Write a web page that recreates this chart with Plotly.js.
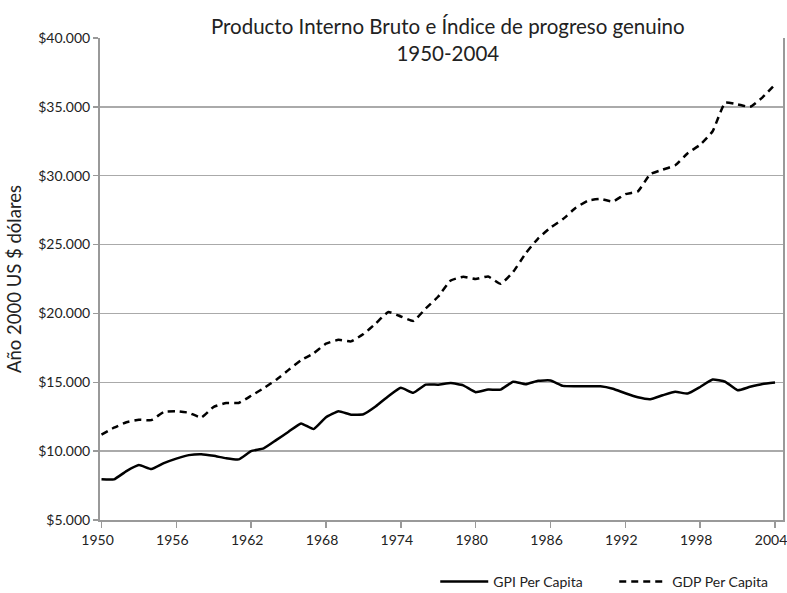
<!DOCTYPE html>
<html>
<head>
<meta charset="utf-8">
<script src="https://cdn.plot.ly/plotly-3.0.1.min.js"></script>
<style>html,body{margin:0;padding:0;background:#fff;}#chart{width:787px;height:593px;}</style>
</head>
<body>
<div id="chart"></div>
<script>
const years = [1950,1951,1952,1953,1954,1955,1956,1957,1958,1959,
  1960,1961,1962,1963,1964,1965,1966,1967,1968,1969,
  1970,1971,1972,1973,1974,1975,1976,1977,1978,1979,
  1980,1981,1982,1983,1984,1985,1986,1987,1988,1989,
  1990,1991,1992,1993,1994,1995,1996,1997,1998,1999,
  2000,2001,2002,2003,2004];

const gpiPerCapita = [7950,7950,8550,8990,8700,9130,9460,9710,9780,9660,
  9480,9400,10000,10200,10800,11410,12010,11600,12460,12900,
  12650,12680,13260,13990,14600,14240,14830,14830,14940,14780,
  14280,14470,14470,15040,14860,15110,15130,14740,14710,14710,
  14710,14530,14200,13910,13770,14060,14310,14180,14660,15200,
  15040,14420,14670,14880,14980];

const gdpPerCapita = [11200,11700,12100,12280,12250,12850,12900,12790,12440,13220,
  13500,13500,14020,14570,15180,15900,16600,17100,17800,18080,
  17970,18500,19280,20100,19780,19460,20360,21230,22390,22660,
  22500,22680,22150,23010,24350,25440,26230,26850,27650,28190,
  28310,28130,28660,28860,30110,30440,30760,31630,32250,33230,
  35300,35180,35000,35690,36630];

const xTickVals = [1950,1956,1962,1968,1974,1980,1986,1992,1998,2004];
const yTickVals = [5000,10000,15000,20000,25000,30000,35000,40000];
const yTickText = ['$5.000','$10.000','$15.000','$20.000','$25.000','$30.000','$35.000','$40.000'];

const seriesNames = ['GPI Per Capita','GDP Per Capita'];
const titleText = 'Producto Interno Bruto e Índice de progreso genuino<br>1950-2004';
const yTitle = 'Año 2000 US $ dólares';

const fontFam = 'Lato, "Open Sans", sans-serif';

const traces = [
  {x: years, y: gpiPerCapita, name: seriesNames[0], type: 'scatter', mode: 'lines',
   line: {color: '#000', width: 2.5, shape: 'spline', smoothing: 0.4}},
  {x: years, y: gdpPerCapita, name: seriesNames[1], type: 'scatter', mode: 'lines',
   line: {color: '#000', width: 2.5, dash: '7px,5px', shape: 'spline', smoothing: 0.4}}
];

const layout = {
  width: 787, height: 593,
  margin: {l: 100, r: 4, t: 38, b: 73, autoexpand: false},
  paper_bgcolor: '#fff', plot_bgcolor: '#fff',
  font: {family: fontFam, size: 13, color: '#222'},
  title: {text: titleText, font: {family: fontFam, size: 20.5, color: '#222'},
          x: 0.569, xanchor: 'center', y: 0.9427, yanchor: 'middle', yref: 'container'},
  xaxis: {
    type: 'linear', range: [1949.88, 2004.64],
    tickmode: 'array', tickvals: xTickVals,
    ticks: 'outside', ticklen: 6, tickcolor: '#999', tickwidth: 1.5,
    ticklabelshift: -4, ticklabeloverflow: 'allow',
    showline: true, linecolor: '#999', linewidth: 2,
    showgrid: false, zeroline: false,
    tickfont: {family: fontFam, size: 14, color: '#222'}
  },
  yaxis: {
    range: [5000, 40000],
    tickmode: 'array', tickvals: yTickVals, ticktext: yTickText,
    ticks: 'outside', ticklen: 5, tickcolor: '#999', tickwidth: 1.5,
    showline: true, linecolor: '#999', linewidth: 2, mirror: true,
    showgrid: true, gridcolor: '#aaa', gridwidth: 1.5, zeroline: false,
    tickfont: {family: fontFam, size: 14, color: '#222'},
    title: {text: yTitle, font: {family: fontFam, size: 18.5, color: '#222'}, standoff: 12}
  },
  showlegend: true,
  legend: {orientation: 'h', x: 1.015, xanchor: 'right', yref: 'container', y: 0.0458, yanchor: 'top',
           font: {family: fontFam, size: 14, color: '#222'}, itemwidth: 48,
           entrywidth: 116, entrywidthmode: 'pixels', traceorder: 'normal'}
};

Plotly.newPlot('chart', traces, layout, {displayModeBar: false, staticPlot: true});
</script>
</body>
</html>
